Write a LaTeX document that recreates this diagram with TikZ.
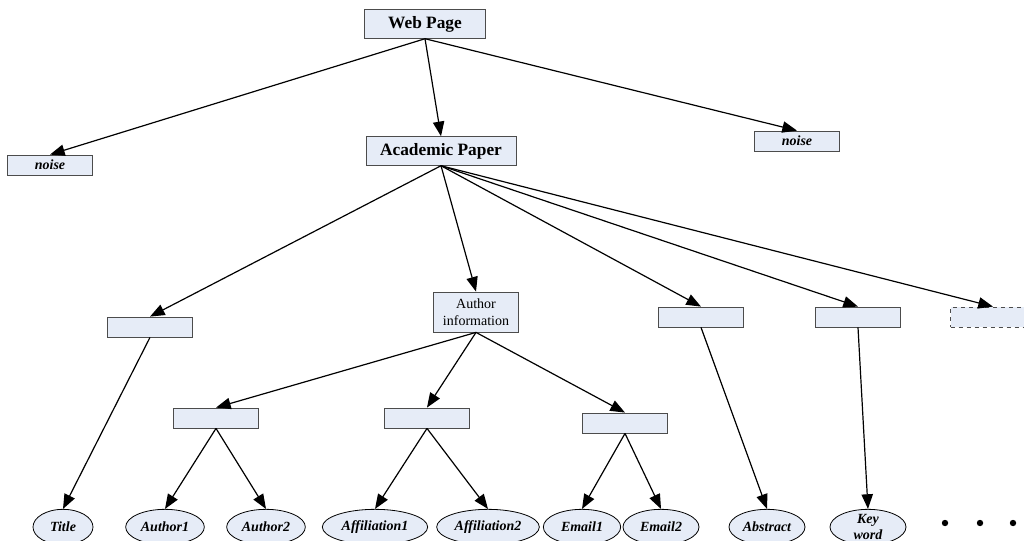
\documentclass[tikz,border=0pt]{standalone}
\usepackage{fontspec}
\setmainfont{Liberation Serif}
\usepackage{tikz}
\usetikzlibrary{arrows.meta,shapes.geometric}
\definecolor{boxfill}{HTML}{E6ECF7}

\begin{document}
\begin{tikzpicture}[x=0.75pt,y=-0.75pt,>={Triangle[length=11pt,width=8.5pt]},
  box/.style={draw=black!70,line width=0.6pt,fill=boxfill,minimum width=63.75pt,minimum height=15pt,inner sep=1pt,
    font=\fontsize{10.5}{12.5}\selectfont,align=center},
  headbox/.style={box,font=\fontsize{13}{15}\selectfont\bfseries,minimum height=21.5pt},
  noisebox/.style={box,font=\fontsize{10.5}{12}\selectfont\bfseries\itshape},
  leaf/.style={ellipse,draw,line width=0.6pt,fill=boxfill,minimum height=26.5pt,inner sep=0pt,
    font=\fontsize{10.5}{11.3}\selectfont\bfseries\itshape,align=center},
  link/.style={->,line width=0.9pt}]
  \useasboundingbox (0,0) rectangle (1024,541);
  % top levels
  \node[headbox,minimum width=90.75pt] (web) at (425,24) {Web Page};
  \node[noisebox] (noiseL) at (50,165) {noise};
  \node[noisebox] (noiseR) at (797,141) {noise};
  \node[headbox,minimum width=112.5pt] (paper) at (441,151) {Academic Paper};
  % parts of the paper
  \node[box] (titlebox) at (150,327) {};
  \node[box,minimum height=30pt] (authinfo) at (476,312) {Author\\information};
  \node[box] (absbox) at (701,317) {};
  \node[box] (keybox) at (858,317) {};
  \node[box,dashed] (morebox) at (993,317) {};
  \node[box] (authbox) at (216,418) {};
  \node[box] (affbox) at (427,418) {};
  \node[box] (mailbox) at (625,423) {};
  % leaves
  \node[leaf,minimum width=45pt] (title) at (63,527) {Title};
  \node[leaf,minimum width=59pt] (auth1) at (165,527) {Author1};
  \node[leaf,minimum width=59pt] (auth2) at (266,527) {Author2};
  \node[leaf,minimum width=79pt] (aff1) at (375,527) {Affiliation1};
  \node[leaf,minimum width=77pt] (aff2) at (488,527) {Affiliation2};
  \node[leaf,minimum width=58pt] (mail1) at (582,527) {Email1};
  \node[leaf,minimum width=57pt] (mail2) at (661,527) {Email2};
  \node[leaf,minimum width=57pt] (abs) at (767,527) {Abstract};
  \node[leaf,minimum width=57pt] (key) at (868,527) {Key\\word};
  \foreach \x in {945,980,1013}
    \fill (\x,523) circle (2.4pt);
  % links
  \foreach \a/\b in {web/noiseL,web/paper,web/noiseR,
                     paper/titlebox,paper/authinfo,paper/absbox,paper/keybox,paper/morebox,
                     titlebox/title,authinfo/authbox,authinfo/affbox,authinfo/mailbox,
                     absbox/abs,keybox/key,
                     authbox/auth1,authbox/auth2,affbox/aff1,affbox/aff2,
                     mailbox/mail1,mailbox/mail2}
    \draw[link] (\a.south) -- (\b.north);
\end{tikzpicture}
\end{document}
